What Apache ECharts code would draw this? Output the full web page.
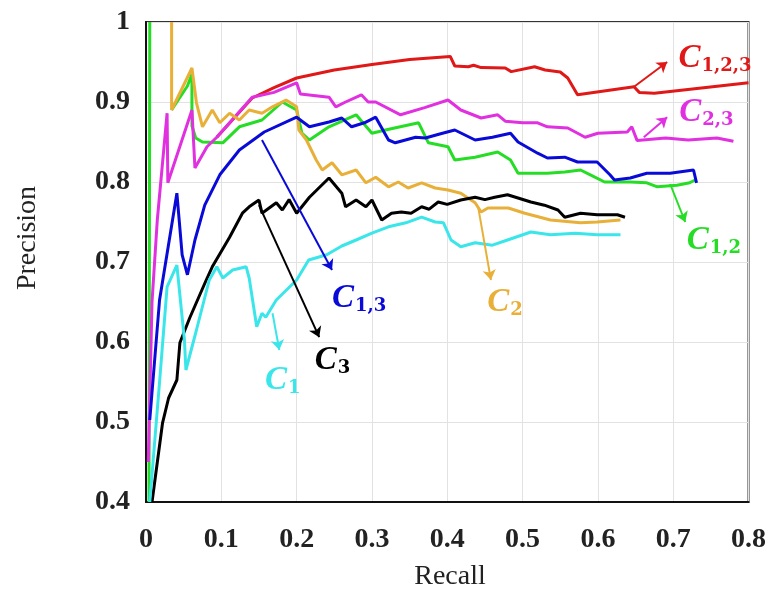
<!DOCTYPE html>
<html>
<head>
<meta charset="utf-8">
<script src="https://cdn.jsdelivr.net/npm/echarts@6/dist/echarts.min.js"></script>
<style>
  html, body { margin: 0; padding: 0; background: #fff; }
  #chart { width: 769px; height: 594px; }
</style>
</head>
<body>
<div id="chart"></div>
<script>
// recall / precision pairs
var c123 = [[0.094,0.856],[0.141,0.905],[0.17,0.918],[0.2,0.93],[0.25,0.94],[0.3,0.947],[0.35,0.953],[0.404,0.957],
  [0.41,0.945],[0.428,0.944],[0.435,0.946],[0.445,0.943],[0.477,0.9425],[0.485,0.938],[0.516,0.944],[0.53,0.94],[0.55,0.9375],[0.56,0.93],[0.573,0.909],
  [0.648,0.919],[0.655,0.912],[0.675,0.911],[0.8,0.924]];
var c23 = [[0.003,0.45],[0.008,0.65],[0.015,0.7525],[0.028,0.886],[0.029,0.799],[0.061,0.89],[0.065,0.8175],[0.081,0.844],[0.094,0.856],[0.141,0.906],[0.17,0.912],
  [0.2,0.924],[0.205,0.91],[0.243,0.906],[0.252,0.894],[0.265,0.9],[0.286,0.909],[0.295,0.9],[0.305,0.9],[0.338,0.884],[0.37,0.893],[0.401,0.9025],[0.418,0.89],
  [0.445,0.88],[0.467,0.884],[0.477,0.876],[0.5,0.874],[0.52,0.874],[0.533,0.869],[0.56,0.8675],[0.575,0.86],[0.583,0.856],[0.6,0.861],[0.639,0.8625],
  [0.645,0.869],[0.652,0.852],[0.69,0.855],[0.72,0.8525],[0.758,0.855],[0.78,0.851]];
var c13 = [[0.005,0.5025],[0.018,0.6525],[0.041,0.786],[0.048,0.709],[0.055,0.684],[0.065,0.7275],[0.078,0.771],[0.098,0.809],[0.124,0.84],[0.157,0.8625],
  [0.2,0.881],[0.217,0.869],[0.243,0.875],[0.26,0.88],[0.273,0.869],[0.29,0.874],[0.305,0.881],[0.322,0.8525],[0.331,0.849],[0.358,0.856],[0.371,0.855],
  [0.39,0.86],[0.41,0.865],[0.437,0.8525],[0.46,0.856],[0.484,0.861],[0.494,0.85],[0.52,0.836],[0.533,0.83],[0.556,0.831],[0.573,0.825],[0.599,0.825],
  [0.616,0.809],[0.622,0.8025],[0.643,0.805],[0.665,0.811],[0.696,0.811],[0.727,0.815],[0.731,0.799]];
// '-' is a gap: the green curve leaves the plot at the top and comes back in
var c12 = [[0.004,0.4],[0.005,1.0],'-',[0.034,0.89],[0.055,0.92],[0.061,0.935],[0.061,0.87],[0.066,0.855],[0.075,0.85],[0.102,0.849],[0.124,0.869],[0.154,0.8775],
  [0.181,0.90],[0.2,0.89],[0.207,0.861],[0.217,0.8525],[0.243,0.869],[0.279,0.884],[0.3,0.861],[0.318,0.865],[0.362,0.874],[0.375,0.849],[0.401,0.844],
  [0.41,0.8275],[0.437,0.831],[0.467,0.8375],[0.484,0.8275],[0.494,0.811],[0.533,0.811],[0.556,0.8125],[0.577,0.815],[0.59,0.809],[0.609,0.80],[0.643,0.80],
  [0.665,0.799],[0.679,0.794],[0.705,0.796],[0.722,0.799],[0.729,0.8025]];
var c2 = [[0.034,1.0],[0.034,0.89],[0.061,0.9425],[0.067,0.899],[0.075,0.869],[0.088,0.89],[0.098,0.874],[0.111,0.886],[0.124,0.8775],[0.137,0.89],[0.154,0.886],
  [0.168,0.894],[0.186,0.9025],[0.2,0.894],[0.203,0.865],[0.213,0.8525],[0.226,0.8275],[0.234,0.815],[0.247,0.824],[0.26,0.809],[0.279,0.815],[0.292,0.799],
  [0.305,0.806],[0.322,0.794],[0.335,0.8],[0.348,0.7925],[0.366,0.799],[0.384,0.7925],[0.401,0.79],[0.418,0.786],[0.437,0.774],[0.445,0.7625],[0.454,0.7675],
  [0.481,0.7675],[0.503,0.761],[0.537,0.7525],[0.577,0.749],[0.599,0.75],[0.63,0.7525]];
var c3 = [[0.008,0.4],[0.022,0.499],[0.03,0.53],[0.041,0.5525],[0.045,0.599],[0.058,0.63],[0.08,0.6775],[0.088,0.694],[0.111,0.731],[0.128,0.761],[0.137,0.769],
  [0.15,0.7775],[0.154,0.761],[0.173,0.774],[0.181,0.765],[0.19,0.778],[0.2,0.761],[0.217,0.781],[0.243,0.805],[0.26,0.786],[0.265,0.769],[0.279,0.7775],
  [0.292,0.769],[0.3,0.7775],[0.313,0.7525],[0.326,0.761],[0.339,0.7625],[0.352,0.761],[0.366,0.769],[0.376,0.766],[0.388,0.775],[0.4,0.772],[0.418,0.7775],
  [0.437,0.781],[0.45,0.778],[0.463,0.781],[0.48,0.784],[0.494,0.78],[0.511,0.775],[0.529,0.771],[0.547,0.765],[0.556,0.756],[0.577,0.761],[0.599,0.759],
  [0.626,0.759],[0.636,0.756]];
var c1 = [[0.005,0.4],[0.018,0.55],[0.028,0.669],[0.041,0.696],[0.051,0.6025],[0.053,0.565],[0.067,0.615],[0.084,0.6775],[0.094,0.694],[0.102,0.68],[0.115,0.69],
  [0.133,0.694],[0.137,0.68],[0.147,0.619],[0.154,0.636],[0.159,0.631],[0.173,0.6525],[0.2,0.6775],[0.216,0.7025],[0.24,0.709],[0.26,0.72],[0.279,0.7275],
  [0.3,0.736],[0.322,0.744],[0.345,0.749],[0.366,0.756],[0.384,0.75],[0.395,0.749],[0.405,0.7275],[0.418,0.719],[0.437,0.724],[0.46,0.721],[0.48,0.7275],
  [0.511,0.7375],[0.537,0.734],[0.57,0.736],[0.599,0.734],[0.63,0.734]];

var xTicks = [0, 0.8, 0.1];
var yTicks = [0.4, 1, 0.1];

// annotation text, arrow start/end and label anchor in data units
var notes = [
  { sub: '1,2,3', from: [0.648,0.919], to: [0.692,0.95], at: [0.707,0.955] },
  { sub: '2,3',   from: [0.661,0.856], to: [0.692,0.881], at: [0.708,0.8875] },
  { sub: '1,3',   from: [0.154,0.8525], to: [0.247,0.69], at: [0.247,0.655] },
  { sub: '1,2',   from: [0.696,0.7975], to: [0.716,0.75], at: [0.718,0.7275] },
  { sub: '2',     from: [0.441,0.769], to: [0.458,0.6775], at: [0.453,0.65] },
  { sub: '3',     from: [0.15,0.771], to: [0.23,0.606], at: [0.224,0.5775] },
  { sub: '1',     from: [0.168,0.636], to: [0.177,0.59], at: [0.158,0.5525] }
];

var serif = 'Liberation Serif';

function makeSeries(name, data, color, note) {
  return {
    name: name,
    type: 'line',
    data: data,
    showSymbol: false,
    connectNulls: false,
    silent: true,
    lineStyle: { color: color, width: 3 },
    itemStyle: { color: color },
    markLine: {
      silent: true,
      symbol: ['none', 'arrow'],
      symbolSize: 10,
      label: { show: false },
      lineStyle: { color: color, width: 2, type: 'solid' },
      data: [[{ coord: note.from }, { coord: note.to }]]
    },
    markPoint: {
      silent: true,
      symbol: 'circle',
      symbolSize: 0,
      data: [{ coord: note.at }],
      label: {
        show: true,
        position: 'right',
        distance: 0,
        formatter: '{c|C}{s|' + note.sub + '}',
        rich: {
          c: { fontFamily: serif, fontStyle: 'italic', fontWeight: 'bold', fontSize: 33, color: color },
          s: { fontFamily: 'DejaVu Serif', fontWeight: 'bold', fontSize: 18, color: color, verticalAlign: 'bottom', padding: [17, 0, 0, 1] }
        }
      }
    }
  };
}

var chart = echarts.init(document.getElementById('chart'));
var option = {
  animation: false,
  backgroundColor: '#fff',
  grid: { left: 146, right: 17, top: 22, bottom: 92, show: true, borderColor: '#333', borderWidth: 2, backgroundColor: 'transparent' },
  xAxis: {
    type: 'value', min: xTicks[0], max: xTicks[1], interval: xTicks[2],
    axisLine: { show: true, lineStyle: { color: '#111', width: 2 } },
    axisTick: { show: false },
    splitLine: { show: true, lineStyle: { color: '#e2e2e2', width: 1 } },
    axisLabel: { margin: 24, color: '#222', fontFamily: serif, fontWeight: 'bold', fontSize: 28 }
  },
  yAxis: {
    type: 'value', min: yTicks[0], max: yTicks[1], interval: yTicks[2],
    axisLine: { show: true, lineStyle: { color: '#111', width: 2 } },
    axisTick: { show: false },
    splitLine: { show: true, lineStyle: { color: '#e2e2e2', width: 1 } },
    axisLabel: { margin: 16, color: '#222', fontFamily: serif, fontWeight: 'bold', fontSize: 28 }
  },
  graphic: [
    { type: 'text', x: 28, y: 238, rotation: Math.PI / 2,
      style: { text: 'Precision', fontFamily: serif, fontSize: 28, fill: '#222', align: 'center', verticalAlign: 'middle' } },
    { type: 'text', x: 450, y: 577,
      style: { text: 'Recall', fontFamily: serif, fontSize: 28, fill: '#222', align: 'center', verticalAlign: 'middle' } }
  ],
  series: [
    makeSeries('C1,2', c12, '#26dd26', notes[3]),
    makeSeries('C1,2,3', c123, '#e01818', notes[0]),
    makeSeries('C2,3', c23, '#e030e0', notes[1]),
    makeSeries('C2', c2, '#e8b038', notes[4]),
    makeSeries('C1,3', c13, '#0a0ad8', notes[2]),
    makeSeries('C3', c3, '#000000', notes[5]),
    makeSeries('C1', c1, '#3ae6ea', notes[6])
  ]
};
chart.setOption(option);
</script>
</body>
</html>
